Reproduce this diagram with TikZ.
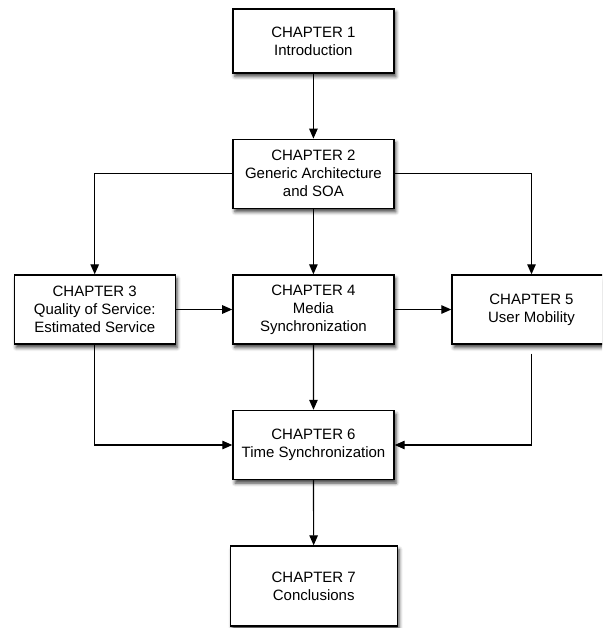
\documentclass[tikz,border=0pt]{standalone}
\usepackage{fontspec}
\setmainfont{Liberation Sans}
\usetikzlibrary{arrows.meta,shadows.blur}
\begin{document}
\begin{tikzpicture}[x=1pt,y=-1pt,
  chapter/.style={draw=black, line width=1.4pt, fill=white, align=center,
    minimum width=161pt, minimum height=69pt, inner sep=0pt,
    font=\fontsize{15}{18}\selectfont,
    blur shadow={shadow xshift=2pt, shadow yshift=-3.5pt,
      shadow blur radius=3.5pt, shadow opacity=75}},
  link/.style={line width=1.2pt, -{Triangle[length=10pt,width=8.5pt]}}]
  \useasboundingbox (0,0) rectangle (602,628);
  \clip (0,0) rectangle (602,628);

  % chapter boxes
  \node[chapter, minimum height=64pt] (c1) at (313.4,40.9) {CHAPTER 1\\Introduction};
  \node[chapter] (c2) at (313.4,173.8) {CHAPTER 2\\Generic Architecture\\and SOA};
  \node[chapter] (c3) at (94.7,309.5) {CHAPTER 3\\Quality of Service:\\Estimated Service};
  \node[chapter] (c4) at (313.4,309.5) {CHAPTER 4\\Media\\Synchronization};
  \node[chapter, minimum width=159pt] (c5) at (531.5,309.5) {CHAPTER 5\\User Mobility};
  \node[chapter] (c6) at (313.5,445) {CHAPTER 6\\Time Synchronization};
  \node[chapter, minimum width=167pt, minimum height=80pt] (c7) at (313.7,586) {CHAPTER 7\\Conclusions};

  % reading order
  \draw[link] (c1) -- (c2);
  \draw[link] (c2.west) -| (c3.north);
  \draw[link] (c2) -- (c4);
  \draw[link] (c2.east) -| (c5.north);
  \draw[link] (c3) -- (c4);
  \draw[link] (c4) -- (c5);
  \draw[link] (c4) -- (c6);
  \draw[link] (c3.south) |- (c6.west);
  \draw[link] ([yshift=-9pt]c5.south) |- (c6.east);
  \draw[link] (c6) -- (c7);
\end{tikzpicture}
\end{document}
